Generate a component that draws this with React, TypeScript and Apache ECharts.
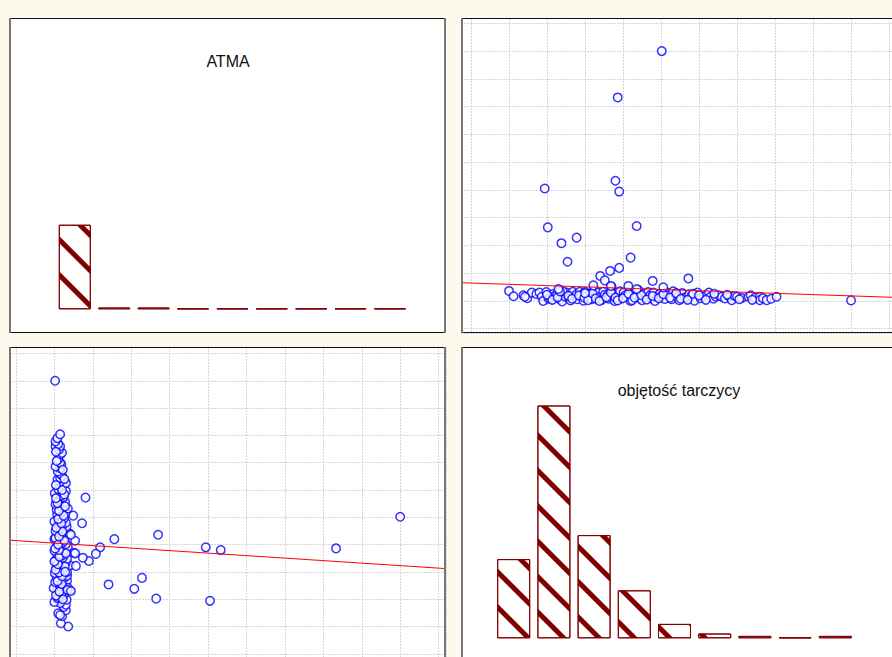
import React, { useEffect, useRef } from "react";
import * as echarts from "echarts";

// ---- data ----
const histBins = ["1", "2", "3", "4", "5", "6", "7", "8", "9"];
const atmaCounts = [190, 4, 4, 1, 2, 0, 0, 1, 1];
const volCounts = [33, 97, 43, 20, 6, 2, 1, 0, 1];

const volRange = [-1.316, 56.18];
const atmaRange = [-15.5, 1119.2];
const volStep = 5;
const atmaStep = 100;

const titles = ["ATMA", "objętość tarczycy"];

// [objętość tarczycy, ATMA]
const outlierPoints: [number, number][] = [
  [50.0, 102], [28.6, 181], [23.9, 172], [25.3, 149], [20.7, 154], [19.5, 219],
  [21.0, 256], [18.3, 208], [17.0, 190], [17.6, 174], [12.7, 241], [11.9, 308],
  [13.9, 328], [10.1, 365], [21.8, 370], [19.5, 494], [19.0, 533], [9.7, 505],
  [19.3, 833], [25.1, 1000], [16.1, 156], [18.4, 154], [21.8, 143], [11.5, 143],
];
const clusterPoints: [number, number][] = [
  [5.0, 136], [5.6, 117], [6.9, 120], [7.4, 110], [8.0, 130], [8.6, 125], [9.0, 130],
  [9.3, 115], [9.5, 100], [9.9, 132], [10.2, 108], [10.4, 111], [10.8, 125], [11.0, 118],
  [11.3, 121], [11.6, 140], [11.7, 106], [12.0, 98], [12.2, 128], [12.4, 115], [12.6, 130],
  [12.9, 110], [13.1, 102], [13.4, 133], [13.7, 115], [13.9, 125], [14.0, 106], [14.3, 133],
  [14.5, 118], [14.8, 101], [15.0, 133], [15.2, 115], [15.5, 124], [15.7, 110], [15.9, 106],
  [16.2, 140], [16.5, 118], [16.7, 130], [17.0, 115], [17.2, 104], [17.4, 133], [17.6, 122],
  [18.0, 121], [18.1, 108], [18.3, 115], [18.5, 151], [18.7, 128], [18.9, 100], [19.1, 127],
  [19.4, 118], [19.6, 135], [19.8, 109], [20.1, 130], [20.3, 120], [20.5, 115], [20.9, 121],
  [21.0, 100], [21.2, 103], [21.4, 128], [21.8, 118], [22.0, 140], [22.2, 110], [22.5, 103],
  [22.8, 127], [23.0, 115], [23.3, 132], [23.6, 121], [23.8, 109], [24.0, 130], [24.2, 100],
  [24.5, 115], [24.8, 125], [25.1, 118], [25.5, 107], [25.8, 130], [26.0, 120], [26.4, 106],
  [26.6, 135], [26.9, 121], [27.1, 115], [27.4, 103], [27.8, 128], [28.1, 112], [28.4, 115],
  [28.7, 124], [29.0, 118], [29.4, 101], [29.8, 130], [30.2, 110], [30.6, 115], [31.0, 122],
  [31.3, 130], [31.5, 115], [31.9, 108], [32.2, 115], [32.6, 120], [33.0, 115], [33.4, 109],
  [34.0, 115], [34.3, 103], [34.7, 118], [35.0, 115], [35.6, 110], [36.5, 115], [36.8, 120],
  [37.4, 112], [38.0, 115], [38.0, 103], [38.4, 110], [38.9, 103], [39.5, 108], [40.2, 115],
  [10.0, 122], [10.7, 104], [11.4, 113], [12.1, 135], [12.8, 119], [13.3, 108], [14.2, 120],
  [14.9, 112], [15.4, 103], [16.0, 127], [16.4, 109], [16.9, 100], [17.8, 113], [18.4, 130],
  [19.0, 112], [19.3, 102], [20.0, 110], [20.7, 126], [21.5, 112], [22.4, 121], [23.1, 105],
  [23.9, 118], [24.7, 110], [25.3, 124], [26.2, 112], [27.0, 128], [27.6, 108], [28.5, 104],
  [29.2, 126], [30.0, 120], [30.9, 104], [32.0, 126], [33.7, 122], [35.3, 106], [37.0, 104],
  [11.7, 134], [15.0, 128], [7.1, 115],
];

// regression lines
const fitAtmaOnVol: [number, number][] = [[-1.316, 165.7], [56.18, 112.4]];
const fitVolOnAtma: [number, number][] = [[-15.5, 20.8], [1119.2, 15.6]];

const CREAM = "#fdf9ec";
const MAROON = "#800000";
const BLUE = "#0000ff";
const FONT = '16px "Liberation Sans", Arial, sans-serif';

export default function App() {
  const ref = useRef<HTMLDivElement>(null);
  useEffect(() => {
    document.body.style.margin = "0";
    const chart = echarts.init(ref.current!, null, { renderer: "svg" });
    const points = [...clusterPoints, ...outlierPoints];

    const split = { show: true, lineStyle: { color: "#d6d6d6", type: [2, 1] as any, width: 1 } };
    const hiddenAxis = {
      axisLine: { show: false },
      axisTick: { show: false },
      axisLabel: { show: false },
    };

    const panels = [
      [9, 18, 437, 315],
      [461, 18, 437, 315],
      [9, 347, 437, 314],
      [461, 347, 437, 314],
    ];
    const graphics: any[] = [];
    panels.forEach(([x, y, w, h]) => {
      graphics.push({ type: "rect", z: -10, shape: { x, y, width: w, height: h }, style: { fill: "#ffffff" } });
      graphics.push({ type: "line", z: 100, shape: { x1: x, y1: y + 0.5, x2: x + w, y2: y + 0.5 }, style: { stroke: "#111", lineWidth: 1 } });
      graphics.push({ type: "line", z: 100, shape: { x1: x, y1: y + h - 0.5, x2: x + w, y2: y + h - 0.5 }, style: { stroke: "#111", lineWidth: 1 } });
      graphics.push({ type: "line", z: 100, shape: { x1: x + 1, y1: y, x2: x + 1, y2: y + h }, style: { stroke: "#777", lineWidth: 2 } });
      graphics.push({ type: "line", z: 100, shape: { x1: x + w - 1, y1: y, x2: x + w - 1, y2: y + h }, style: { stroke: "#777", lineWidth: 2 } });
    });
    graphics.push({ type: "text", z: 100, x: 228, y: 61, style: { text: titles[0], font: FONT, fill: "#111", align: "center", verticalAlign: "middle" } });
    graphics.push({ type: "text", z: 100, x: 679, y: 390, style: { text: titles[1], font: FONT, fill: "#111", align: "center", verticalAlign: "middle" } });

    const decal = {
      symbol: "rect",
      symbolSize: 1,
      dashArrayX: [1, 0],
      dashArrayY: [5, 20],
      rotation: Math.PI / 4,
      color: MAROON,
    };
    const barStyle = { color: "#ffffff", borderColor: MAROON, borderWidth: 1, decal };
    const scatterStyle = { color: "#ffffff", borderColor: BLUE, borderWidth: 1.5 };

    const option: any = {
      animation: false,
      backgroundColor: CREAM,
      graphic: { elements: graphics },
      grid: [
        { left: 55.1, top: 131.3, width: 354.6, height: 178, outerBoundsMode: "none" },
        { left: 461, top: 18, width: 437, height: 315, outerBoundsMode: "none" },
        { left: 10, top: 347, width: 436, height: 314, outerBoundsMode: "none" },
        { left: 493.6, top: 398.3, width: 361.8, height: 240, outerBoundsMode: "none" },
      ],
      xAxis: [
        { type: "category", gridIndex: 0, data: histBins, ...hiddenAxis, splitLine: { show: false } },
        { type: "value", gridIndex: 1, min: volRange[0], max: volRange[1], splitNumber: 11, minInterval: volStep, maxInterval: volStep, ...hiddenAxis, splitLine: split },
        { type: "value", gridIndex: 2, min: atmaRange[0], max: atmaRange[1], splitNumber: 11, minInterval: atmaStep, maxInterval: atmaStep, ...hiddenAxis, splitLine: split },
        { type: "category", gridIndex: 3, data: histBins, ...hiddenAxis, splitLine: { show: false } },
      ],
      yAxis: [
        { type: "value", gridIndex: 0, min: 0, max: 400, ...hiddenAxis, splitLine: { show: false } },
        { type: "value", gridIndex: 1, min: atmaRange[0], max: atmaRange[1], splitNumber: 11, minInterval: atmaStep, maxInterval: atmaStep, ...hiddenAxis, splitLine: split },
        { type: "value", gridIndex: 2, min: volRange[0], max: volRange[1], splitNumber: 11, minInterval: volStep, maxInterval: volStep, ...hiddenAxis, splitLine: split },
        { type: "value", gridIndex: 3, min: 0, max: 100, ...hiddenAxis, splitLine: { show: false } },
      ],
      series: [
        { type: "bar", xAxisIndex: 0, yAxisIndex: 0, data: atmaCounts, barWidth: 32, barMinHeight: 1, itemStyle: barStyle, silent: true },
        { type: "scatter", xAxisIndex: 1, yAxisIndex: 1, data: points, symbol: "circle", symbolSize: 8.5, itemStyle: scatterStyle, silent: true },
        { type: "line", xAxisIndex: 1, yAxisIndex: 1, data: fitAtmaOnVol, showSymbol: false, symbol: "none", lineStyle: { color: "#ff0000", width: 1 }, z: 5, silent: true },
        { type: "scatter", xAxisIndex: 2, yAxisIndex: 2, data: points, encode: { x: 1, y: 0 }, symbol: "circle", symbolSize: 8.5, itemStyle: scatterStyle, silent: true },
        { type: "line", xAxisIndex: 2, yAxisIndex: 2, data: fitVolOnAtma, showSymbol: false, symbol: "none", lineStyle: { color: "#ff0000", width: 1 }, z: 5, silent: true },
        { type: "bar", xAxisIndex: 3, yAxisIndex: 3, data: volCounts, barWidth: 33, barMinHeight: 1, itemStyle: barStyle, silent: true },
      ],
    };
    chart.setOption(option);
    return () => chart.dispose();
  }, []);
  return <div ref={ref} style={{ width: 892, height: 657, background: CREAM }} />;
}
